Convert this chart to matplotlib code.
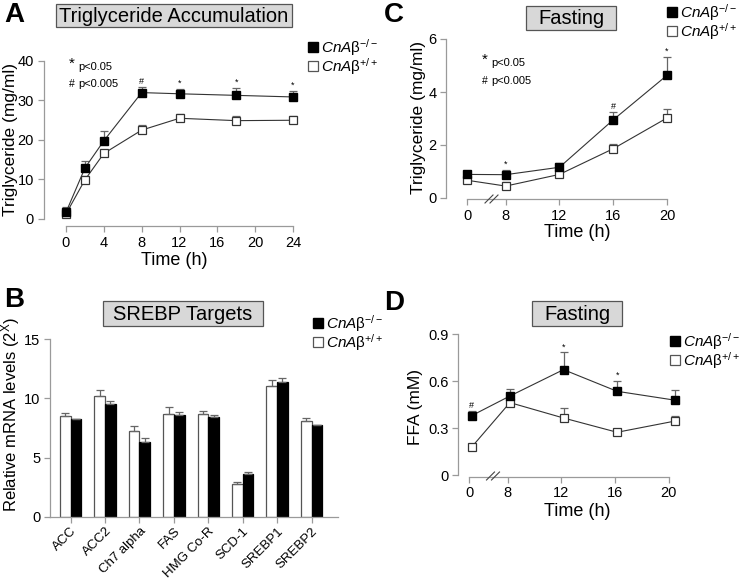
import numpy as np
import matplotlib
matplotlib.use("Agg")
import matplotlib.pyplot as plt
from matplotlib.lines import Line2D
from matplotlib.patches import Rectangle
from matplotlib.scale import FuncScale

plt.rcParams['font.family'] = ['Liberation Sans', 'DejaVu Sans']
plt.rcParams['mathtext.fontset'] = 'custom'
plt.rcParams['mathtext.rm'] = 'Liberation Sans'
plt.rcParams['mathtext.it'] = 'Liberation Sans:italic'

# ---------------- data ----------------
# Panel A: triglyceride accumulation
a_time = [0, 2, 4, 8, 12, 18, 24]
a_ko = [1.7, 12.9, 19.8, 32.0, 31.7, 31.3, 30.9]
a_ko_err = [1.4, 1.9, 2.5, 1.4, 1.2, 1.9, 1.5]
a_wt = [1.3, 9.9, 16.6, 22.5, 25.5, 24.9, 25.0]
a_wt_err = [0.8, 1.0, 0.9, 1.3, 1.0, 1.2, 1.1]
a_sig = ['', '', '', '#', '*', '*', '*']

# Panel B: SREBP targets
b_genes = ['ACC', 'ACC2', 'Ch7 alpha', 'FAS', 'HMG Co-R', 'SCD-1', 'SREBP1', 'SREBP2']
b_wt = [8.54, 10.18, 7.27, 8.68, 8.68, 2.73, 11.08, 8.06]
b_wt_err = [0.26, 0.52, 0.40, 0.57, 0.29, 0.20, 0.52, 0.26]
b_ko = [8.23, 9.53, 6.32, 8.63, 8.40, 3.61, 11.36, 7.78]
b_ko_err = [0.0, 0.27, 0.33, 0.19, 0.17, 0.17, 0.34, 0.0]

# Panel C: fasting triglyceride
c_time = [0, 8, 12, 16, 20]
c_ko = [0.89, 0.88, 1.16, 2.95, 4.63]
c_ko_err = [0.0, 0.18, 0.17, 0.28, 0.68]
c_wt = [0.67, 0.45, 0.89, 1.86, 3.02]
c_wt_err = [0.0, 0.17, 0.0, 0.18, 0.33]
c_sig = ['', '*', '', '#', '*']

# Panel D: fasting FFA
d_time = [0.5, 8.15, 12.15, 16.15, 20.5]
d_ko = [0.38, 0.505, 0.673, 0.535, 0.478]
d_ko_err = [0.03, 0.047, 0.11, 0.068, 0.066]
d_wt = [0.18, 0.463, 0.365, 0.274, 0.346]
d_wt_err = [0.0, 0.0, 0.062, 0.0, 0.032]
d_sig = ['#', '', '*', '*', '']

time_ticks_short = [0, 8, 12, 16, 20]
lbl_ko = r'$\mathit{CnA}$β$^{-/-}$'
lbl_wt = r'$\mathit{CnA}$β$^{+/+}$'

W, H = 745, 581
fig = plt.figure(figsize=(W / 100, H / 100), dpi=100)

def fx(x):
    return x / W

def fy(y):
    return 1 - y / H

def px_axes(left, top, right, bottom):
    return fig.add_axes([left / W, 1 - bottom / H, (right - left) / W, (bottom - top) / H])

SPINE = '#9a9a9a'
LINE = '#333333'
ERR = '#666666'

def style(ax, yout, xout):
    for s in ['top', 'right']:
        ax.spines[s].set_visible(False)
    for s in ['left', 'bottom']:
        ax.spines[s].set_color(SPINE)
        ax.spines[s].set_linewidth(0.9)
    ax.spines['left'].set_position(('outward', yout))
    ax.spines['bottom'].set_position(('outward', xout))
    ax.tick_params(color=SPINE, length=4, width=0.9, labelsize=10.5, pad=3)

def label_at(ax, which, text, x, y, size):
    # place axis label centre at pixel (x, y)
    inv = ax.transAxes.inverted()
    ax_x, ax_y = inv.transform(fig.transFigure.transform((fx(x), fy(y))))
    if which == 'x':
        ax.set_xlabel(text, fontsize=size, va='center')
        ax.xaxis.set_label_coords(ax_x, ax_y)
    else:
        ax.set_ylabel(text, fontsize=size, va='center')
        ax.yaxis.set_label_coords(ax_x, ax_y)

def lines(ax, t, ko, koe, wt, wte, sig, sig_off):
    ax.errorbar(t, wt, yerr=[np.zeros(len(wte)), wte], fmt='none', ecolor=ERR,
                elinewidth=0.9, capsize=3, capthick=0.9, clip_on=False, zorder=2)
    ax.errorbar(t, ko, yerr=[np.zeros(len(koe)), koe], fmt='none', ecolor=ERR,
                elinewidth=0.9, capsize=3, capthick=0.9, clip_on=False, zorder=2)
    ax.plot(t, wt, '-', color=LINE, lw=0.8, marker='s', ms=6.2, mfc='white',
            mec=LINE, mew=0.9, clip_on=False, zorder=3)
    ax.plot(t, ko, '-', color=LINE, lw=0.8, marker='s', ms=6.2, mfc='black',
            mec='black', clip_on=False, zorder=4)
    for x, y, e, s in zip(t, ko, koe, sig):
        if s:
            ax.text(x, y + e + sig_off, s, ha='center', va='bottom', fontsize=6.5)

def title_box(x0, y0, x1, y1, text, size):
    fig.add_artist(Rectangle((fx(x0), fy(y1)), (x1 - x0) / W, (y1 - y0) / H,
                             transform=fig.transFigure, fc='#d8d8d8', ec='#555555', lw=0.9))
    fig.text(fx((x0 + x1) / 2), fy((y0 + y1) / 2 + 1), text, ha='center', va='center',
             fontsize=size)

def legend(x, y, dy=18.5):
    fig.add_artist(Line2D([fx(x)], [fy(y)], ls='none', marker='s', ms=7.5,
                          mfc='black', mec='black', transform=fig.transFigure))
    fig.add_artist(Line2D([fx(x)], [fy(y + dy)], ls='none', marker='s', ms=7.5,
                          mfc='white', mec='#555555', mew=0.9, transform=fig.transFigure))
    fig.text(fx(x + 8), fy(y + 1), lbl_ko, fontsize=11, ha='left', va='center')
    fig.text(fx(x + 8), fy(y + dy + 1), lbl_wt, fontsize=11, ha='left', va='center')

def sig_legend(x, y1, y2):
    fig.text(fx(x), fy(y1 - 3), '*', fontsize=11, ha='left', va='center')
    fig.text(fx(x + 9), fy(y1), 'p<0.05', fontsize=8, ha='left', va='center')
    fig.text(fx(x), fy(y2), '#', fontsize=7.5, ha='left', va='center')
    fig.text(fx(x + 9), fy(y2), 'p<0.005', fontsize=8, ha='left', va='center')

# ---------- Panel A ----------
axA = px_axes(66, 61, 293, 219)
style(axA, 16, 5)
lines(axA, a_time, a_ko, a_ko_err, a_wt, a_wt_err, a_sig, 0.3)
axA.set_xlim(0, 24)
axA.set_ylim(0, 40)
axA.set_xticks([0, 4, 8, 12, 16, 20, 24])
axA.set_yticks([0, 10, 20, 30, 40])
axA.spines['bottom'].set_bounds(0, 24)
label_at(axA, 'x', 'Time (h)', 174, 261, 13)
label_at(axA, 'y', 'Triglyceride (mg/ml)', 11, 140, 12.5)
title_box(56, 4, 292, 27, 'Triglyceride Accumulation', 14.5)
legend(313, 47)
sig_legend(69, 67, 84)
fig.text(fx(4), fy(15), 'A', fontsize=20, fontweight='bold', va='center')

# ---------- Panel C ----------
k = 0.36
def fwd(x):
    x = np.asarray(x, dtype=float)
    return np.where(x >= 8, x, 8 - (8 - x) * k)
def inv(y):
    y = np.asarray(y, dtype=float)
    return np.where(y >= 8, y, 8 - (8 - y) / k)

axC = px_axes(467, 39, 667, 198)
style(axC, 15, 1)
axC.set_xscale(FuncScale(axC, (fwd, inv)))
lines(axC, c_time, c_ko, c_ko_err, c_wt, c_wt_err, c_sig, 0.04)
axC.set_xlim(0, 20)
axC.set_ylim(0, 6)
axC.set_xticks(time_ticks_short)
axC.set_xticklabels([str(t) for t in time_ticks_short])
axC.set_yticks([0, 2, 4, 6])
label_at(axC, 'x', 'Time (h)', 577, 233, 13)
label_at(axC, 'y', 'Triglyceride (mg/ml)', 418, 118, 12.5)
title_box(526, 6, 616, 30, 'Fasting', 14.5)
legend(672, 12)
sig_legend(482, 63, 81)
fig.text(fx(384), fy(15), 'C', fontsize=20, fontweight='bold', va='center')
bx = 491.5
for dx in (-2.5, 2.5):
    fig.add_artist(Line2D([fx(bx + dx - 4), fx(bx + dx + 4)],
                          [fy(203), fy(195)], color='#444444', lw=0.8))

# ---------- Panel B ----------
axB = px_axes(50, 339.3, 338, 516.7)
style(axB, 0, 0)
xpos = np.arange(len(b_genes))
bw = 0.31
axB.bar(xpos - bw / 2, b_wt, bw, color='white', edgecolor='#555555', lw=0.9,
        yerr=[np.zeros(len(b_wt_err)), b_wt_err], ecolor=ERR, capsize=3,
        error_kw=dict(elinewidth=0.9, capthick=0.9))
axB.bar(xpos + bw / 2, b_ko, bw, color='black', edgecolor='black', lw=0.9,
        yerr=[np.zeros(len(b_ko_err)), b_ko_err], ecolor=ERR, capsize=3,
        error_kw=dict(elinewidth=0.9, capthick=0.9))
axB.set_xlim(-0.6, 7.77)
axB.set_ylim(0, 15)
axB.set_yticks([0, 5, 10, 15])
axB.set_xticks(xpos)
axB.set_xticklabels(b_genes, rotation=45, ha='right', rotation_mode='anchor', fontsize=9.5)
axB.tick_params(axis='x', pad=2)
label_at(axB, 'y', 'Relative mRNA levels (2$^{\\mathrm{X}}$)', 11, 414, 12)
title_box(103, 301, 263, 326, 'SREBP Targets', 14.5)
legend(318, 323)
fig.text(fx(4), fy(300), 'B', fontsize=20, fontweight='bold', va='center')

# ---------- Panel D ----------
axD = px_axes(469.3, 334, 668.7, 475.3)
style(axD, 8, 1)
axD.set_xscale(FuncScale(axD, (fwd, inv)))
lines(axD, d_time, d_ko, d_ko_err, d_wt, d_wt_err, d_sig, 0.006)
axD.set_xlim(0, 20)
axD.set_ylim(0, 0.9)
axD.set_xticks(time_ticks_short)
axD.set_xticklabels([str(t) for t in time_ticks_short])
axD.set_yticks([0, 0.3, 0.6, 0.9])
axD.set_yticklabels(['0', '0.3', '0.6', '0.9'])
label_at(axD, 'x', 'Time (h)', 577, 512, 13)
label_at(axD, 'y', 'FFA (mM)', 416, 407, 12.5)
title_box(532, 301, 622, 326, 'Fasting', 14.5)
legend(675, 341)
fig.text(fx(384), fy(303), 'D', fontsize=20, fontweight='bold', va='center')
bx = 493
for dx in (-2.5, 2.5):
    fig.add_artist(Line2D([fx(bx + dx - 4), fx(bx + dx + 4)],
                          [fy(480), fy(472)], color='#444444', lw=0.8))

fig.savefig('out.png', dpi=100)
